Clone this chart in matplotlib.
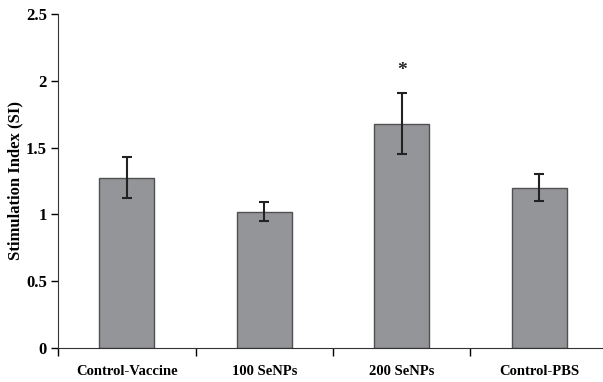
import matplotlib.pyplot as plt

groups = ["Control-Vaccine", "100 SeNPs", "200 SeNPs", "Control-PBS"]
si_mean = [1.275, 1.02, 1.68, 1.20]
si_err = [0.155, 0.07, 0.23, 0.10]
y_ticks = [0, 0.5, 1, 1.5, 2, 2.5]
y_tick_labels = ["0", "0.5", "1", "1.5", "2", "2.5"]

plt.rcParams['font.family'] = ['Liberation Serif', 'DejaVu Serif']
plt.rcParams['font.weight'] = 'bold'

fig = plt.figure(figsize=(6.03, 3.82), dpi=100)
ax = fig.add_axes([58 / 603, 34 / 382, 550 / 603, 334 / 382])

x = list(range(len(groups)))
ax.bar(x, si_mean, width=0.4, color="#939598", edgecolor="#505050", linewidth=1.0,
       yerr=si_err, error_kw=dict(ecolor="#222222", elinewidth=1.5, capsize=3.5, capthick=1.5))

# significance mark
ax.text(2, 2.08, "*", ha="center", va="center", fontsize=14, color="#222222")

ax.set_xlim(-0.5, 3.5)
ax.set_ylim(0, 2.5)
ax.set_yticks(y_ticks)
ax.set_yticklabels(y_tick_labels, fontsize=12, fontweight="bold")
ax.set_xticks([-0.5, 0.5, 1.5, 2.5, 3.5])
ax.set_xticklabels([])
ax.set_xticks(x, minor=True)
ax.set_xticklabels(groups, minor=True, fontsize=10.5, fontweight="bold")
ax.tick_params(axis="x", which="minor", length=0, pad=12)
ax.tick_params(axis="x", which="major", length=6, width=1, direction="out")
ax.tick_params(axis="y", length=5, width=1, direction="out", pad=3)

ax.spines["top"].set_visible(False)
ax.spines["right"].set_visible(False)
ax.spines["left"].set_color("#333333")
ax.spines["bottom"].set_color("#333333")
ax.set_ylabel("Stimulation Index (SI)", fontsize=12, fontweight="bold", labelpad=2)

fig.savefig("out.png", dpi=100)
